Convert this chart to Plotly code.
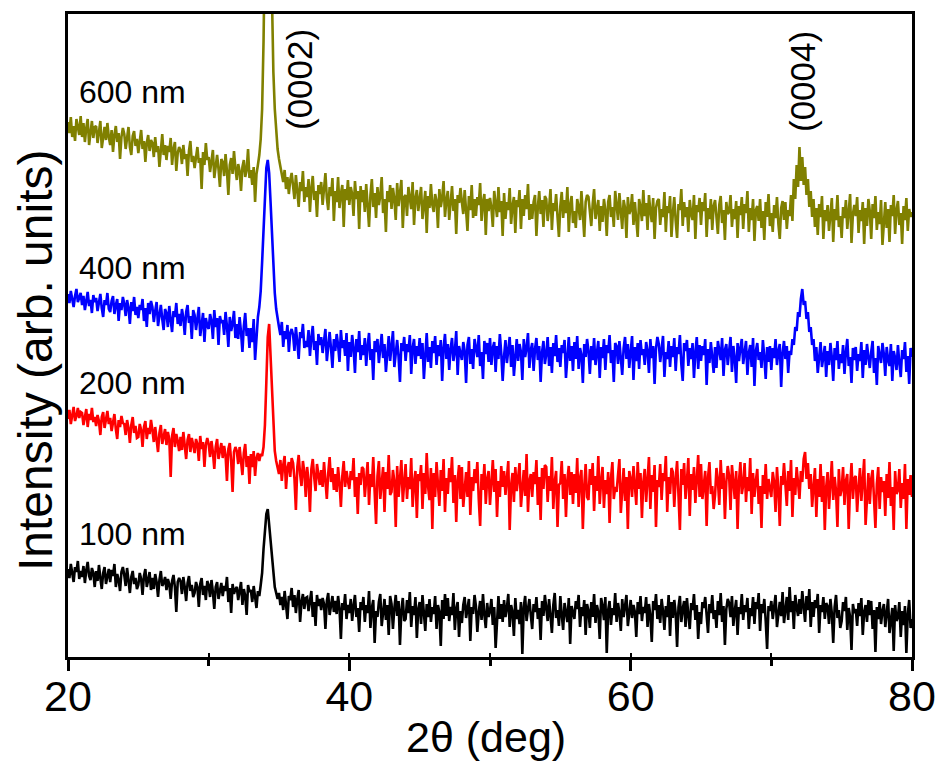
import numpy as np
import plotly.graph_objects as go

# 2-theta grid (deg), 0.1 deg steps from 20 to 80
two_theta = np.round(np.arange(200, 801) / 10.0, 1)

# Intensities (arb. units, offset stack as plotted), one row per degree
i600 = [
    535, 524, 540, 520, 531, 516, 538, 528, 522, 541,
    520, 534, 515, 529, 538, 512, 527, 536, 519, 530,
    531, 514, 525, 536, 509, 523, 530, 517, 534, 520,
    512, 527, 505, 522, 531, 515, 524, 498, 520, 529,
    523, 508, 519, 530, 510, 502, 521, 526, 511, 518,
    504, 519, 527, 508, 516, 495, 514, 522, 506, 517,
    514, 500, 520, 505, 511, 490, 509, 523, 502, 512,
    497, 511, 505, 519, 492, 508, 515, 486, 504, 510,
    507, 493, 512, 498, 503, 481, 506, 516, 495, 501,
    489, 503, 510, 494, 499, 468, 505, 492, 514, 497,
    500, 485, 496, 507, 479, 493, 502, 488, 470, 498,
    495, 481, 503, 486, 462, 492, 499, 483, 506, 489,
    477, 493, 486, 466, 490, 497, 480, 487, 508, 479,
    487, 472, 490, 455, 483, 492, 502, 518, 548, 615,
    705, 840, 930, 860, 735, 650, 585, 548, 524, 508,
    498, 490, 482, 475, 487, 468, 480, 463, 477, 484,
    471, 458, 482, 463, 450, 475, 466, 486, 455, 470,
    460, 478, 445, 469, 481, 457, 466, 440, 472, 463,
    475, 452, 468, 484, 459, 447, 470, 461, 479, 436,
    466, 455, 480, 449, 463, 472, 430, 468, 457, 477,
    452, 470, 463, 441, 476, 458, 466, 428, 471, 455,
    467, 445, 473, 456, 430, 462, 478, 450, 464, 439,
    470, 452, 461, 480, 444, 458, 425, 466, 455, 472,
    448, 469, 458, 437, 474, 451, 463, 477, 429, 460,
    462, 441, 470, 455, 448, 475, 432, 459, 467, 446,
    458, 470, 438, 455, 466, 424, 461, 449, 473, 452,
    445, 463, 456, 429, 468, 450, 459, 476, 440, 457,
    466, 437, 452, 471, 446, 458, 423, 462, 454, 469,
    455, 443, 467, 450, 426, 461, 447, 472, 439, 458,
    441, 460, 452, 474, 436, 455, 463, 422, 458, 446,
    459, 449, 430, 466, 452, 440, 470, 445, 456, 421,
    464, 438, 455, 447, 469, 433, 451, 460, 424, 457,
    450, 467, 428, 458, 441, 462, 448, 473, 437, 453,
    438, 455, 462, 421, 450, 466, 443, 457, 430, 461,
    458, 436, 449, 468, 427, 454, 446, 463, 440, 420,
    451, 465, 439, 457, 444, 470, 425, 452, 461, 434,
    446, 429, 458, 450, 437, 466, 443, 420, 455, 462,
    460, 444, 431, 453, 468, 438, 449, 457, 426, 451,
    435, 458, 447, 421, 455, 462, 440, 450, 430, 466,
    452, 437, 464, 445, 428, 457, 449, 419, 460, 443,
    447, 463, 432, 455, 441, 420, 458, 450, 436, 467,
    441, 454, 427, 462, 446, 435, 459, 418, 449, 456,
    458, 432, 448, 440, 465, 425, 451, 444, 461, 420,
    444, 460, 436, 419, 453, 447, 468, 431, 455, 440,
    450, 425, 457, 443, 437, 462, 418, 452, 445, 459,
    432, 455, 446, 464, 420, 449, 438, 458, 427, 451,
    457, 440, 423, 452, 461, 434, 447, 417, 455, 443,
    445, 462, 430, 448, 438, 456, 419, 451, 442, 460,
    428, 453, 444, 466, 425, 449, 437, 458, 416, 447,
    451, 436, 458, 429, 446, 417, 455, 440, 463, 431,
    444, 425, 452, 439, 460, 433, 418, 449, 456, 437,
    455, 428, 447, 441, 462, 436, 478, 458, 492, 470,
    510, 476, 500, 472, 490, 462, 478, 450, 466, 440,
    458, 430, 449, 422, 453, 440, 461, 418, 447, 436,
    452, 426, 444, 459, 415, 448, 437, 462, 430, 441,
    419, 450, 439, 457, 428, 446, 463, 414, 443, 452,
    441, 460, 424, 447, 436, 455, 413, 449, 431, 458,
    446, 418, 453, 439, 461, 427, 445, 433, 457, 412,
    438, 455, 429, 448, 415, 452, 441, 462, 423, 447,
    456, 432, 444, 413, 451, 437, 459, 426, 448, 440,
    445,
]

i400 = [
    363, 354, 366, 357, 350, 361, 368, 355, 359, 364,
    352, 361, 347, 358, 365, 351, 357, 344, 362, 355,
    359, 346, 355, 363, 349, 340, 357, 352, 364, 348,
    345, 356, 361, 343, 352, 358, 336, 354, 347, 360,
    353, 341, 357, 349, 333, 355, 346, 360, 342, 350,
    339, 352, 347, 358, 336, 349, 330, 354, 343, 356,
    350, 335, 346, 355, 331, 344, 352, 338, 327, 348,
    344, 330, 351, 337, 325, 346, 340, 354, 333, 343,
    331, 348, 339, 322, 345, 352, 334, 341, 318, 347,
    342, 327, 338, 350, 321, 336, 344, 315, 339, 331,
    328, 343, 336, 318, 347, 330, 339, 312, 341, 334,
    337, 322, 345, 331, 310, 340, 326, 333, 346, 319,
    333, 318, 340, 325, 305, 331, 344, 321, 329, 309,
    329, 315, 338, 297, 326, 340, 350, 366, 395, 430,
    462, 489, 497, 484, 455, 420, 388, 364, 348, 337,
    330, 322, 335, 310, 326, 318, 332, 305, 324, 328,
    322, 306, 330, 315, 298, 325, 319, 333, 309, 316,
    310, 327, 301, 319, 331, 307, 316, 292, 323, 312,
    320, 304, 315, 328, 296, 311, 325, 308, 289, 318,
    306, 323, 312, 295, 327, 309, 317, 301, 324, 286,
    315, 300, 322, 309, 284, 318, 305, 326, 297, 312,
    302, 319, 291, 311, 324, 297, 308, 277, 316, 305,
    318, 294, 310, 323, 299, 313, 285, 307, 321, 296,
    311, 326, 290, 304, 317, 300, 275, 314, 306, 320,
    296, 313, 305, 322, 283, 309, 318, 293, 311, 301,
    319, 298, 314, 278, 307, 324, 295, 310, 289, 316,
    304, 321, 292, 312, 301, 317, 276, 309, 323, 298,
    313, 287, 308, 319, 296, 305, 326, 282, 311, 302,
    297, 315, 306, 274, 312, 320, 293, 308, 288, 318,
    310, 300, 322, 291, 305, 278, 316, 303, 314, 295,
    319, 292, 309, 315, 285, 311, 298, 323, 304, 276,
    301, 317, 294, 308, 320, 290, 312, 281, 306, 318,
    296, 313, 305, 277, 318, 300, 309, 324, 289, 307,
    314, 286, 308, 319, 297, 311, 275, 305, 316, 293,
    303, 320, 291, 310, 284, 314, 301, 322, 295, 309,
    290, 312, 304, 317, 279, 307, 320, 296, 311, 286,
    315, 298, 321, 288, 309, 302, 274, 313, 300, 318,
    306, 283, 311, 297, 319, 292, 308, 316, 279, 310,
    299, 318, 287, 312, 304, 322, 294, 307, 275, 314,
    311, 293, 316, 301, 282, 309, 320, 298, 313, 289,
    304, 321, 277, 310, 296, 314, 288, 317, 302, 308,
    292, 315, 306, 284, 318, 299, 311, 273, 309, 320,
    313, 295, 308, 321, 280, 305, 298, 316, 290, 311,
    300, 319, 286, 310, 303, 322, 293, 276, 314, 306,
    317, 291, 309, 298, 314, 279, 305, 320, 288, 312,
    296, 311, 302, 318, 272, 308, 294, 315, 300, 284,
    310, 289, 316, 303, 297, 319, 281, 307, 313, 292,
    305, 320, 285, 311, 299, 274, 314, 296, 309, 318,
    293, 308, 316, 282, 304, 312, 290, 319, 271, 306,
    314, 297, 305, 289, 317, 300, 278, 310, 295, 311,
    287, 309, 299, 318, 292, 306, 313, 270, 304, 316,
    298, 311, 284, 306, 302, 318, 312, 330, 326, 345,
    340, 358, 368, 352, 356, 338, 345, 325, 330, 312,
    318, 296, 310, 284, 305, 315, 290, 302, 311, 280,
    306, 292, 314, 300, 276, 309, 297, 316, 288, 303,
    294, 312, 283, 305, 318, 291, 300, 274, 309, 297,
    310, 286, 303, 296, 315, 279, 307, 292, 313, 300,
    289, 305, 316, 284, 299, 272, 311, 302, 294, 314,
    303, 281, 310, 297, 291, 313, 276, 306, 299, 287,
    312, 294, 280, 307, 298, 315, 285, 301, 273, 309,
    300,
]

i200 = [
    238, 247, 233, 244, 250, 236, 241, 249, 239, 245,
    244, 232, 241, 248, 230, 243, 237, 249, 235, 240,
    231, 242, 236, 222, 240, 245, 229, 238, 246, 233,
    239, 226, 235, 243, 228, 218, 237, 230, 241, 234,
    233, 222, 237, 229, 214, 232, 240, 224, 231, 219,
    220, 233, 227, 210, 230, 236, 218, 229, 223, 237,
    227, 215, 230, 219, 205, 224, 232, 213, 222, 228,
    212, 225, 218, 180, 221, 229, 210, 223, 216, 206,
    220, 207, 225, 211, 198, 217, 223, 205, 219, 212,
    204, 218, 213, 196, 221, 208, 215, 190, 212, 219,
    213, 200, 216, 205, 188, 210, 218, 198, 207, 214,
    199, 211, 202, 176, 208, 214, 196, 165, 205, 210,
    206, 193, 210, 198, 182, 204, 213, 190, 201, 173,
    203, 190, 206, 181, 199, 204, 196, 203, 201, 210,
    232, 275, 320, 333, 302, 256, 224, 206, 196, 190,
    183, 197, 176, 192, 201, 168, 189, 195, 180, 199,
    194, 178, 147, 190, 202, 183, 171, 196, 185, 160,
    190, 176, 145, 188, 198, 180, 166, 193, 183, 172,
    187, 170, 195, 178, 158, 184, 200, 175, 189, 167,
    183, 165, 190, 174, 150, 181, 196, 170, 186, 176,
    168, 186, 177, 199, 160, 180, 143, 184, 172, 190,
    188, 160, 179, 195, 152, 183, 170, 200, 165, 133,
    181, 196, 158, 176, 190, 145, 185, 168, 202, 162,
    165, 187, 176, 130, 191, 160, 182, 197, 155, 178,
    193, 158, 180, 168, 199, 150, 175, 186, 139, 183,
    176, 192, 148, 184, 163, 204, 170, 157, 189, 128,
    184, 160, 195, 173, 151, 187, 166, 198, 145, 179,
    163, 189, 175, 200, 154, 182, 135, 177, 192, 158,
    190, 150, 171, 185, 160, 196, 142, 180, 166, 188,
    174, 195, 158, 131, 183, 167, 193, 153, 178, 186,
    152, 181, 197, 165, 188, 140, 176, 160, 191, 170,
    186, 162, 178, 196, 127, 172, 184, 155, 190, 166,
    179, 194, 150, 171, 187, 161, 203, 145, 176, 183,
    160, 185, 173, 197, 152, 180, 137, 189, 168, 192,
    190, 155, 181, 166, 200, 148, 175, 186, 130, 172,
    174, 196, 158, 183, 140, 177, 191, 162, 185, 153,
    183, 164, 199, 150, 179, 187, 128, 171, 193, 160,
    157, 188, 172, 194, 146, 181, 166, 201, 153, 176,
    190, 149, 177, 163, 185, 134, 179, 195, 158, 170,
    165, 182, 198, 144, 173, 189, 156, 180, 128, 186,
    178, 160, 191, 170, 152, 195, 168, 184, 139, 175,
    188, 155, 173, 200, 148, 182, 165, 192, 130, 177,
    170, 193, 157, 184, 176, 201, 145, 180, 163, 189,
    185, 150, 178, 196, 162, 127, 188, 172, 194, 158,
    176, 199, 141, 183, 167, 190, 154, 179, 202, 160,
    193, 158, 174, 186, 131, 180, 195, 163, 171, 148,
    162, 189, 177, 152, 197, 168, 184, 138, 175, 191,
    181, 147, 192, 170, 158, 186, 128, 176, 195, 163,
    172, 194, 155, 180, 166, 199, 143, 184, 160, 176,
    188, 153, 171, 129, 182, 163, 193, 158, 178, 168,
    160, 185, 175, 145, 190, 167, 131, 181, 172, 194,
    176, 151, 186, 166, 197, 140, 179, 162, 190, 171,
    158, 186, 175, 198, 205, 178, 194, 168, 183, 150,
    172, 189, 140, 178, 160, 193, 155, 181, 127, 170,
    185, 148, 173, 196, 157, 180, 166, 130, 188, 161,
    168, 190, 152, 176, 183, 128, 171, 194, 158, 179,
    181, 145, 169, 189, 156, 175, 198, 132, 166, 184,
    153, 178, 187, 162, 129, 173, 190, 148, 180, 165,
    176, 141, 183, 159, 195, 151, 170, 127, 186, 163,
    167, 188, 149, 174, 158, 193, 128, 178, 162, 182,
    160,
]

i100 = [
    88, 79, 93, 82, 75, 90, 85, 96, 78, 86,
    80, 91, 74, 87, 95, 81, 77, 89, 84, 70,
    86, 76, 92, 79, 68, 84, 90, 73, 82, 88,
    75, 87, 81, 93, 70, 83, 77, 66, 85, 90,
    82, 71, 89, 76, 64, 80, 86, 73, 79, 68,
    72, 84, 78, 62, 81, 88, 70, 77, 85, 67,
    79, 68, 83, 75, 60, 77, 86, 71, 74, 80,
    67, 78, 73, 58, 76, 82, 70, 45, 75, 79,
    76, 63, 80, 70, 56, 74, 81, 66, 72, 60,
    64, 75, 70, 50, 73, 79, 62, 71, 57, 76,
    72, 60, 77, 65, 48, 70, 75, 58, 68, 74,
    61, 71, 66, 80, 55, 69, 44, 73, 63, 68,
    70, 57, 66, 75, 52, 68, 61, 42, 72, 65,
    67, 55, 71, 60, 49, 66, 61, 72, 84, 108,
    126, 143, 148, 133, 112, 95, 80, 70, 64, 58,
    64, 52, 60, 47, 66, 55, 38, 61, 57, 69,
    50, 62, 44, 58, 67, 35, 55, 63, 48, 59,
    60, 46, 57, 66, 40, 55, 31, 62, 51, 58,
    47, 59, 53, 28, 56, 64, 42, 50, 61, 45,
    56, 43, 61, 49, 18, 54, 47, 63, 38, 52,
    44, 58, 36, 51, 62, 40, 49, 25, 55, 47,
    60, 35, 52, 44, 66, 29, 49, 57, 14, 46,
    40, 55, 63, 31, 48, 58, 37, 52, 22, 61,
    53, 28, 49, 62, 41, 56, 12, 47, 59, 36,
    38, 57, 44, 65, 30, 51, 42, 60, 19, 48,
    55, 33, 62, 47, 26, 53, 40, 58, 35, 50,
    43, 61, 28, 52, 45, 11, 57, 38, 63, 41,
    59, 36, 50, 42, 64, 27, 48, 55, 20, 46,
    34, 52, 60, 39, 47, 58, 16, 50, 43, 62,
    51, 25, 45, 56, 37, 63, 42, 29, 54, 40,
    46, 58, 32, 50, 9, 44, 61, 38, 53, 35,
    57, 40, 49, 63, 30, 52, 45, 21, 59, 38,
    47, 33, 55, 3, 50, 61, 36, 48, 58, 42,
    28, 53, 45, 60, 38, 49, 17, 56, 41, 62,
    50, 36, 58, 44, 24, 52, 64, 39, 47, 31,
    61, 42, 27, 54, 46, 35, 59, 13, 51, 45,
    38, 56, 48, 62, 30, 50, 41, 57, 22, 53,
    46, 29, 55, 40, 63, 34, 52, 45, 18, 59,
    51, 37, 60, 4, 47, 56, 32, 49, 42, 64,
    35, 54, 44, 26, 58, 40, 50, 62, 31, 48,
    57, 39, 52, 45, 20, 55, 43, 61, 36, 50,
    44, 60, 30, 53, 41, 15, 56, 47, 63, 38,
    52, 34, 58, 46, 27, 51, 40, 62, 21, 55,
    39, 57, 44, 10, 50, 61, 35, 48, 56, 30,
    59, 42, 28, 54, 47, 63, 37, 52, 18, 45,
    33, 55, 49, 60, 40, 24, 53, 44, 62, 38,
    47, 29, 56, 42, 64, 35, 51, 12, 48, 58,
    54, 40, 61, 31, 46, 57, 22, 50, 43, 63,
    37, 52, 45, 59, 28, 49, 41, 60, 33, 55,
    48, 64, 26, 53, 44, 58, 36, 8, 51, 46,
    56, 38, 50, 62, 30, 47, 55, 41, 65, 34,
    49, 60, 37, 70, 45, 56, 28, 62, 50, 41,
    58, 43, 66, 52, 35, 61, 47, 68, 30, 55,
    40, 57, 49, 63, 24, 52, 45, 60, 38, 54,
    51, 33, 58, 44, 14, 50, 62, 39, 47, 29,
    36, 55, 46, 60, 27, 49, 40, 7, 53, 44,
    48, 31, 54, 41, 59, 22, 45, 52, 35, 57,
    42, 56, 28, 47, 5, 50, 38, 55, 33, 46,
    53, 30, 45, 58, 24, 41, 49, 6, 52, 36,
    40, 55, 20, 46, 32, 51, 4, 43, 57, 29,
    38,
]

series_names = ["600 nm", "400 nm", "200 nm", "100 nm"]
series_values = [i600, i400, i200, i100]
series_colors = ["#808000", "#0000FF", "#FF0000", "#000000"]

peak_labels = ["(0002)", "(0004)"]
x_ticks = [20, 40, 60, 80]

REG = "Liberation Sans, Arial, sans-serif"

fig = go.Figure()
for name, vals, color in zip(series_names, series_values, series_colors):
    assert len(vals) == len(two_theta), (name, len(vals))
    fig.add_trace(go.Scatter(
        x=two_theta, y=vals, mode="lines", name=name,
        line=dict(color=color, width=2.6), showlegend=False, hoverinfo="skip"))

# empty trace to carry the inner tick axis
fig.add_trace(go.Scatter(x=[], y=[], xaxis="x2", showlegend=False, hoverinfo="skip"))

W, H = 951, 773
L, R, T, B = 68, 39, 14, 116
pw, ph = W - L - R, H - T - B


def px(xp):
    return (xp - L) / pw


def py(yp):
    return (H - B - yp) / ph


annotations = [
    dict(text="Intensity (arb. units)", x=px(35), y=py(360), textangle=-90,
         font=dict(family=REG, size=48, color="black")),
    dict(text="2θ (deg)", x=px(486), y=py(737),
         font=dict(family=REG, size=43, color="black")),
    dict(text=peak_labels[0], x=px(299), y=py(80), textangle=-90,
         font=dict(family=REG, size=35, color="black")),
    dict(text=peak_labels[1], x=px(802), y=py(82), textangle=-90,
         font=dict(family=REG, size=35, color="black")),
]
label_y = [92, 268, 383, 534]
for name, yy in zip(series_names, label_y):
    annotations.append(dict(text=name, x=px(77), y=py(yy), xanchor="left",
                            font=dict(family=REG, size=32, color="black")))
for a in annotations:
    a.update(xref="paper", yref="paper", showarrow=False)
    a.setdefault("xanchor", "center")
    a.setdefault("yanchor", "middle")

fig.update_layout(
    template="none",
    width=W, height=H,
    margin=dict(l=L, r=R, t=T, b=B, pad=0, autoexpand=False),
    paper_bgcolor="white", plot_bgcolor="white",
    showlegend=False,
    annotations=annotations,
    xaxis=dict(range=[20, 80], tickmode="array", tickvals=x_ticks,
               ticks="outside", ticklen=11, tickwidth=3, tickcolor="black",
               ticklabelstandoff=-12,
               showline=True, linewidth=3, linecolor="black", mirror=True,
               showgrid=False, zeroline=False, automargin=False,
               tickfont=dict(family=REG, size=43, color="black"),
               minor=dict(tickmode="array", tickvals=[30, 50, 70], ticks="outside",
                          ticklen=6, tickwidth=3, tickcolor="black", showgrid=False)),
    xaxis2=dict(range=[20, 80], overlaying="x", anchor="y", side="bottom",
                tickmode="linear", tick0=20, dtick=10, ticks="inside", ticklen=4,
                tickwidth=2, tickcolor="black", showticklabels=False,
                showline=False, showgrid=False, zeroline=False, automargin=False),
    yaxis=dict(range=[0, ph], showticklabels=False, ticks="",
               showline=True, linewidth=3, linecolor="black", mirror=True,
               showgrid=False, zeroline=False, automargin=False),
)

fig.write_html("out.html", config={"displayModeBar": False},
               post_script="document.body.style.margin='0';document.body.style.overflow='hidden';")
